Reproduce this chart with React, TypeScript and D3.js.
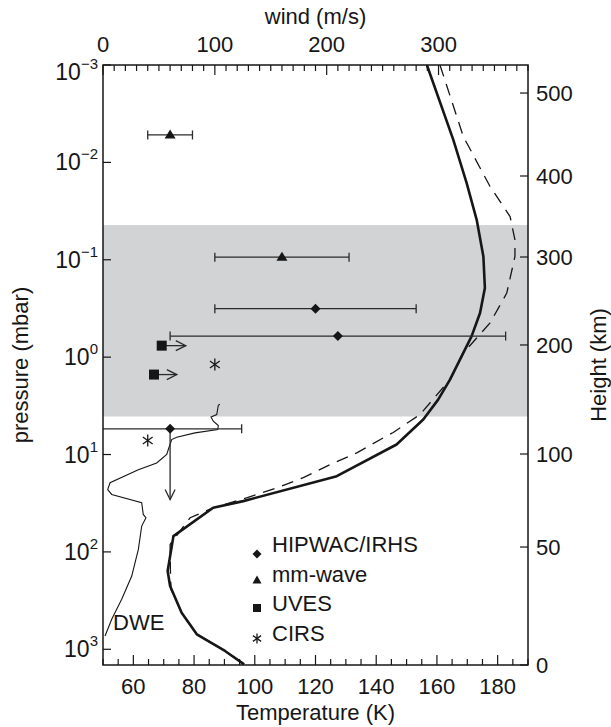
import React from "react";
import * as d3 from "d3";

// ---- Temperature profiles (K vs pressure mbar) ----
const solidTemp = [156.7, 165.4, 169.8, 173.1, 175.3, 175.8, 174.2, 171.4, 164.3, 160.4, 155.5, 146.7, 127.0, 96.2, 86.3, 73.2, 71.3, 72.1, 75.9, 80.9, 90.2, 96.5];
const solidPres = [1e-3, 5.87e-3, 0.0163, 0.0389, 0.0925, 0.195, 0.352, 0.612, 1.70, 2.73, 4.37, 7.89, 16.7, 30.1, 35.2, 68.9, 157, 224, 421, 701, 1040, 1430];
const dashedTemp = [161.0, 168.7, 177.5, 184.1, 185.7, 185.7, 183.0, 177.5, 168.7, 164.3, 154.4, 145.6, 142.3, 133.6, 124.8, 116.0, 107.2, 97.3, 86.3, 78.7, 72.1, 72.2, 72.4, 76.0, 81.0, 90.2, 96.5];
const dashedPres = [1e-3, 5.43e-3, 0.0177, 0.036, 0.0624, 0.0925, 0.22, 0.446, 0.906, 1.70, 3.89, 5.94, 6.75, 9.62, 12.7, 17.3, 22.0, 27.8, 35.2, 44.6, 83.7, 151, 243, 421, 701, 1040, 1430];

// ---- DWE wind profile (m/s vs mbar) ----
const dweWind = [104.5, 103.1, 101.7, 96.6, 98.6, 103.1, 102.6, 82.3, 65.9, 61.4, 58.4, 57.0, 48.0, 31.6, 6.3, 4.2, 7.8, 34.6, 36.0, 38.4, 34.6, 31.6, 25.7, 16.7, 7.8, 1.8];
const dwePres = [3.05, 3.12, 3.89, 4.11, 4.55, 5.04, 5.54, 5.99, 6.65, 7.02, 8.89, 10.0, 12.2, 14.3, 19.5, 22.9, 25.7, 31.3, 41.2, 44.6, 54.3, 94.2, 177, 307, 492, 730];

// ---- Wind measurements ----
const hipwacWind = [190, 210, 60];
const hipwacErr = [90, 150, 64];
const hipwacPres = [0.318, 0.607, 5.44];
const hipwacArrowToPres = 29; // downward arrow from the lowest HIPWAC point

const mmWind = [60, 160];
const mmErr = [20, 60];
const mmPres = [0.00523, 0.094];

const uvesWind = [52.5, 45.6];
const uvesArrowTip = [74, 66];
const uvesPres = [0.762, 1.51];

const cirsWind = [100, 40];
const cirsPres = [1.19, 7.18];

// ---- Shaded layer (pressure range) ----
const bandPres = [0.044, 4.07];

// ---- Axes ----
const tempTicks = [60, 80, 100, 120, 140, 160, 180];
const windTicks = [0, 100, 200, 300];
const presExps = [-3, -2, -1, 0, 1, 2, 3];
const heightLabels = ["500", "400", "300", "200", "100", "50", "0"];
const heightPres = [1.94e-3, 0.0138, 0.0937, 0.750, 9.88, 89.1, 1450];

const legendNames = ["HIPWAC/IRHS", "mm-wave", "UVES", "CIRS"];

const FONT = "'Liberation Sans', Arial, Helvetica, sans-serif";
const INK = "#161616";

function diamond(cx: number, cy: number, r: number) {
  return `M${cx},${cy - r}L${cx + r},${cy}L${cx},${cy + r}L${cx - r},${cy}Z`;
}
function triangle(cx: number, cy: number, w: number, h: number) {
  return `M${cx},${cy - h / 2}L${cx + w / 2},${cy + h / 2}L${cx - w / 2},${cy + h / 2}Z`;
}
function Star({ cx, cy, r }: { cx: number; cy: number; r: number }) {
  const angs = [90, 35, -35];
  return (
    <g stroke={INK} strokeWidth={1.3}>
      {angs.map((a) => {
        const rad = (a * Math.PI) / 180;
        const dx = Math.cos(rad) * r;
        const dy = Math.sin(rad) * r;
        return <line key={a} x1={cx - dx} y1={cy - dy} x2={cx + dx} y2={cy + dy} />;
      })}
    </g>
  );
}

export default function App() {
  const W = 611, H = 727;
  const x0 = 103, x1 = 528, y0 = 65, y1 = 665;
  const tScale = d3.scaleLinear().domain([50, 190]).range([x0, x1]);
  const wScale = d3.scaleLinear().domain([0, 380]).range([x0, x1]);
  const pScale = d3.scaleLog().domain([1e-3, 1450]).range([y0, y1]);
  const line = d3.line();

  const solidPath = line(solidTemp.map((t, i) => [tScale(t), pScale(solidPres[i])]))!;
  const dashedPath = line(dashedTemp.map((t, i) => [tScale(t), pScale(dashedPres[i])]))!;
  const dwePath = line(dweWind.map((w, i) => [wScale(w), pScale(dwePres[i])]))!;

  const tempMinor = d3.range(50, 191, 5);
  const windMinor = d3.range(0, 381, 10);

  const errBar = (w: number, e: number, p: number, key: string) => {
    const y = pScale(p);
    const xa = wScale(w - e), xb = wScale(w + e);
    return (
      <g key={key} stroke="#2a2a2a" strokeWidth={1.3}>
        <line x1={xa} y1={y} x2={xb} y2={y} />
        <line x1={xa} y1={y - 4.5} x2={xa} y2={y + 4.5} />
        <line x1={xb} y1={y - 4.5} x2={xb} y2={y + 4.5} />
      </g>
    );
  };

  const legendBase = [552, 581.5, 611, 640.5];
  const legX = 257;

  return (
    <svg width={W} height={H} style={{ display: "block", position: "absolute", left: 0, top: 0 }} fontFamily={FONT}>
      <rect width={W} height={H} fill="#fff" />
      <defs>
        <clipPath id="plotclip">
          <rect x={x0} y={y0} width={x1 - x0} height={y1 - y0} />
        </clipPath>
      </defs>
      {/* shaded band */}
      <rect x={x0} y={pScale(bandPres[0])} width={x1 - x0} height={pScale(bandPres[1]) - pScale(bandPres[0])} fill="#d2d3d5" />

      <g clipPath="url(#plotclip)">
        {/* temperature curves */}
        <path d={dashedPath} fill="none" stroke={INK} strokeWidth={1.3} strokeDasharray="12 8" />
        <path d={solidPath} fill="none" stroke={INK} strokeWidth={2.6} strokeLinejoin="round" />
        {/* DWE */}
        <path d={dwePath} fill="none" stroke={INK} strokeWidth={1.1} />

        {/* error bars */}
        {hipwacWind.map((w, i) => errBar(w, hipwacErr[i], hipwacPres[i], "h" + i))}
        {mmWind.map((w, i) => errBar(w, mmErr[i], mmPres[i], "m" + i))}

        {/* downward arrow */}
        <g stroke="#2a2a2a" strokeWidth={1.3} fill="none">
          <line x1={wScale(hipwacWind[2])} y1={pScale(hipwacPres[2])} x2={wScale(hipwacWind[2])} y2={pScale(hipwacArrowToPres)} />
          <path d={`M${wScale(hipwacWind[2]) - 5},${pScale(hipwacArrowToPres) - 10}L${wScale(hipwacWind[2])},${pScale(hipwacArrowToPres)}L${wScale(hipwacWind[2]) + 5},${pScale(hipwacArrowToPres) - 10}`} />
        </g>

        {/* UVES arrows */}
        {uvesWind.map((w, i) => {
          const y = pScale(uvesPres[i]);
          const xt = wScale(uvesArrowTip[i]);
          return (
            <g key={"ua" + i} stroke="#2a2a2a" strokeWidth={1.3} fill="none">
              <line x1={wScale(w)} y1={y} x2={xt} y2={y} />
              <path d={`M${xt - 10},${y - 5}L${xt},${y}L${xt - 10},${y + 5}`} />
            </g>
          );
        })}

        {/* markers */}
        {hipwacWind.map((w, i) => (
          <path key={"hd" + i} d={diamond(wScale(w), pScale(hipwacPres[i]), 5)} fill={INK} />
        ))}
        {mmWind.map((w, i) => (
          <path key={"mt" + i} d={triangle(wScale(w), pScale(mmPres[i]) - 1, 11, 9)} fill={INK} />
        ))}
        {uvesWind.map((w, i) => (
          <rect key={"us" + i} x={wScale(w) - 5} y={pScale(uvesPres[i]) - 5} width={10} height={10} fill={INK} />
        ))}
        {cirsWind.map((w, i) => (
          <Star key={"cs" + i} cx={wScale(w)} cy={pScale(cirsPres[i])} r={6} />
        ))}
      </g>

      {/* frame */}
      <rect x={x0} y={y0} width={x1 - x0} height={y1 - y0} fill="none" stroke={INK} strokeWidth={1.5} />

      {/* bottom axis (temperature) */}
      {tempMinor.map((t) => {
        const major = t % 20 === 0;
        return <line key={"bt" + t} x1={tScale(t)} x2={tScale(t)} y1={y1} y2={y1 - (major ? 10 : 6)} stroke={INK} strokeWidth={1.2} />;
      })}
      {tempTicks.map((t) => (
        <text key={"btl" + t} x={tScale(t)} y={694} fontSize={22} textAnchor="middle" fill={INK}>{t}</text>
      ))}
      <text x={(x0 + x1) / 2} y={720} fontSize={22} textAnchor="middle" fill={INK}>Temperature (K)</text>

      {/* top axis (wind) */}
      {windMinor.map((w) => {
        const major = w % 100 === 0;
        return <line key={"tt" + w} x1={wScale(w)} x2={wScale(w)} y1={y0} y2={y0 + (major ? 10 : 6)} stroke={INK} strokeWidth={1.2} />;
      })}
      {windTicks.map((w) => (
        <text key={"ttl" + w} x={wScale(w)} y={52} fontSize={22} textAnchor="middle" fill={INK}>{w}</text>
      ))}
      <text x={(x0 + x1) / 2} y={24} fontSize={22} textAnchor="middle" fill={INK}>wind (m/s)</text>

      {/* left axis (pressure) */}
      {presExps.map((e) => {
        const y = pScale(Math.pow(10, e));
        const ly = e === -3 ? y + 7 : y;
        return (
          <g key={"pe" + e}>
            <line x1={x0} x2={x0 + 8} y1={y} y2={y} stroke={INK} strokeWidth={1.2} />
            <text x={98} y={ly + 8} fontSize={23} textAnchor="end" fill={INK}>
              10<tspan fontSize={15} dy={-11}>{e < 0 ? "\u2212" + Math.abs(e) : String(e)}</tspan>
            </text>
          </g>
        );
      })}
      <text transform={`translate(27.5,${(y0 + y1) / 2}) rotate(-90)`} fontSize={22} textAnchor="middle" fill={INK}>pressure (mbar)</text>

      {/* right axis (height) */}
      {heightLabels.map((h, i) => {
        const y = pScale(heightPres[i]);
        return (
          <g key={"hl" + h}>
            <line x1={x1} x2={x1 - 8} y1={y} y2={y} stroke={INK} strokeWidth={1.2} />
            <text x={536} y={y + 8} fontSize={22} fill={INK}>{h}</text>
          </g>
        );
      })}
      <text transform={`translate(606,${(y0 + y1) / 2}) rotate(-90)`} fontSize={22} textAnchor="middle" fill={INK}>Height (km)</text>

      {/* DWE label */}
      <text x={113} y={630} fontSize={22} fill={INK}>DWE</text>

      {/* legend */}
      <path d={diamond(legX, legendBase[0] + 2, 4.5)} fill={INK} />
      <path d={triangle(legX, legendBase[1] - 2, 9, 8)} fill={INK} />
      <rect x={legX - 4} y={legendBase[2] - 7} width={8} height={8} fill={INK} />
      <Star cx={legX} cy={legendBase[3] - 2} r={5} />
      {legendNames.map((n, i) => (
        <text key={n} x={272} y={legendBase[i]} fontSize={22} fill={INK}>{n}</text>
      ))}
    </svg>
  );
}
